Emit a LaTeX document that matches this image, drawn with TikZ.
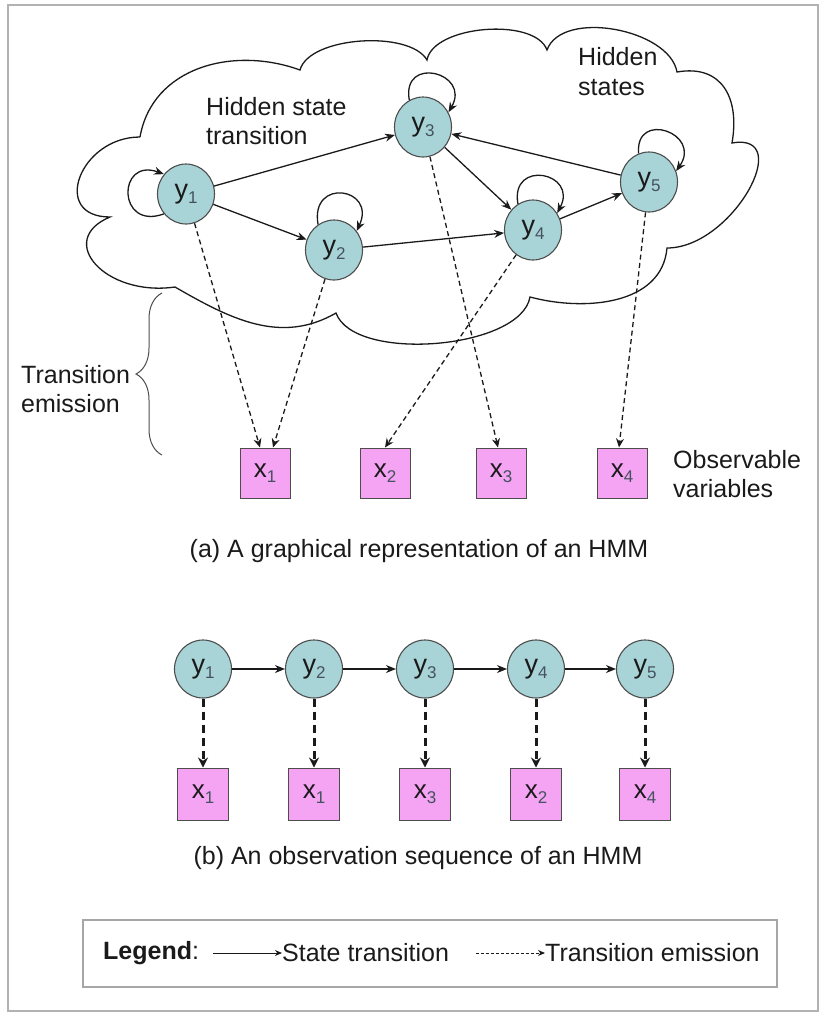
\documentclass[tikz,border=0pt]{standalone}
\usepackage{fontspec}
\setmainfont{Liberation Sans}
\usetikzlibrary{arrows.meta,shapes.geometric,decorations.pathreplacing,calc}
\definecolor{stfill}{HTML}{A9D4D7}
\definecolor{obfill}{HTML}{F5A3F3}
\definecolor{edgegray}{HTML}{4D4D4D}
\definecolor{subgray}{HTML}{44525E}
\definecolor{inkc}{HTML}{1A1A1A}
\newcommand\lbl[2]{#1\raisebox{-0.35ex}{\fontsize{17}{17}\selectfont\color{subgray}#2}}
\tikzset{
  state/.style={ellipse, draw=edgegray, line width=1.1pt, fill=stfill, minimum width=57pt, minimum height=60pt, inner sep=0pt, text=inkc, font=\fontsize{27}{27}\selectfont},
  obs/.style={rectangle, draw=edgegray, line width=1pt, fill=obfill, minimum width=50pt, minimum height=50pt, inner sep=0pt, text=inkc, font=\fontsize{26}{26}\selectfont},
  trans/.style={-{Stealth[length=10pt,width=8pt]}, line width=1.3pt, draw=inkc},
  emit/.style={-{Stealth[length=9pt,width=8pt]}, line width=1.3pt, draw=inkc, dash pattern=on 5pt off 3.5pt},
  emitb/.style={-{Stealth[length=10pt,width=10pt]}, line width=3pt, draw=inkc, dash pattern=on 8pt off 5pt},
  txt/.style={font=\fontsize{25}{29}\selectfont, inner sep=0pt, align=left, text=inkc},
  cloudline/.style={draw=inkc, line width=1.3pt},
}
\begin{document}
\begin{tikzpicture}[x=1pt,y=1pt]
\useasboundingbox (0,0) rectangle (822,-1013);
\draw[gray!60, line width=1.5pt] (8,-5) rectangle (818,-1011);

% cloud
\draw[cloudline]
  (140,-137) to[out=80,in=160,looseness=1.05] (300,-70)
  to[out=75,in=120,looseness=0.7] (427,-60)
  to[out=80,in=110,looseness=0.75] (547,-50)
  to[out=70,in=100,looseness=0.85] (677,-72)
  to[out=10,in=80,looseness=1.3] (732,-143)
  to[out=10,in=0,looseness=1.35] (667,-248)
  to[out=-95,in=-15,looseness=1] (530,-297)
  to[out=-100,in=-70,looseness=0.7] (336,-313)
  to[out=-150,in=-30,looseness=1] (175,-287)
  .. controls (105,-297) and (55,-240) .. (110,-217)
  to[out=180,in=180,looseness=1.8] (140,-137);

% texts part (a)
\node[txt, anchor=west] (t1) at (206,-121) {Hidden state\\transition};
\node[txt, anchor=west, font=\fontsize{25}{30}\selectfont] (t2) at (578,-72) {Hidden\\states};
\node[txt, anchor=west] (t3) at (21,-389) {Transition\\emission};
\node[txt, anchor=west] (t4) at (673,-474) {Observable\\variables};
\draw[edgegray, line width=1pt, decorate, decoration={brace, amplitude=26pt}] (162,-455) -- (162,-293);

% states part (a)
\node[state] (a1) at (186,-194) {\lbl{y}{1}};
\node[state] (a2) at (334,-250) {\lbl{y}{2}};
\node[state] (a3) at (423,-127) {\lbl{y}{3}};
\node[state] (a4) at (533,-230) {\lbl{y}{4}};
\node[state] (a5) at (649,-182) {\lbl{y}{5}};

\node[obs] (o1) at (265,-473) {\lbl{x}{1}};
\node[obs] (o2) at (385,-473) {\lbl{x}{2}};
\node[obs] (o3) at (501,-473) {\lbl{x}{3}};
\node[obs] (o4) at (622,-473) {\lbl{x}{4}};

% self loops
\draw[trans] (a1.222) .. controls +(200:50) and +(160:50) .. (a1.138);
\draw[trans] (a2.122) .. controls +(100:48) and +(65:48) .. (a2.40);
\draw[trans] (a3.117) .. controls +(100:46) and +(60:46) .. (a3.30);
\draw[trans] (a4.120) .. controls +(100:46) and +(62:46) .. (a4.35);
\draw[trans] (a5.110) .. controls +(95:44) and +(55:46) .. (a5.22);

% transitions
\draw[trans] (a1) -- (a3);
\draw[trans] (a1) -- (a2);
\draw[trans] (a2) -- (a4);
\draw[trans] (a3) -- (a4);
\draw[trans] (a4) -- (a5);
\draw[trans] (a5) -- (a3);

% emissions
\draw[emit] (a1) -- ([xshift=-5pt]o1.north);
\draw[emit] (a2) -- ([xshift=8pt]o1.north);
\draw[emit] (a4) -- (o2.north);
\draw[emit] (a3) -- ([xshift=-3pt]o3.north);
\draw[emit] (a5) -- ([xshift=-3pt]o4.north);

\node[txt] (capa) at (419,-551) {(a) A graphical representation of an HMM};

% part (b)
\node[state, minimum height=58pt] (b1) at (203,-669) {\lbl{y}{1}};
\node[state, minimum height=58pt] (b2) at (314,-669) {\lbl{y}{2}};
\node[state, minimum height=58pt] (b3) at (425,-669) {\lbl{y}{3}};
\node[state, minimum height=58pt] (b4) at (536,-669) {\lbl{y}{4}};
\node[state, minimum height=58pt] (b5) at (645,-669) {\lbl{y}{5}};

\node[obs, minimum width=51pt, minimum height=52pt] (c1) at (203,-794) {\lbl{x}{1}};
\node[obs, minimum width=51pt, minimum height=52pt] (c2) at (314,-794) {\lbl{x}{1}};
\node[obs, minimum width=51pt, minimum height=52pt] (c3) at (425,-794) {\lbl{x}{3}};
\node[obs, minimum width=51pt, minimum height=52pt] (c4) at (536,-794) {\lbl{x}{2}};
\node[obs, minimum width=51pt, minimum height=52pt] (c5) at (645,-794) {\lbl{x}{4}};

\draw[trans] (b1) -- (b2);
\draw[trans] (b2) -- (b3);
\draw[trans] (b3) -- (b4);
\draw[trans] (b4) -- (b5);

\draw[emitb] (b1) -- (c1);
\draw[emitb] (b2) -- (c2);
\draw[emitb] (b3) -- (c3);
\draw[emitb] (b4) -- (c4);
\draw[emitb] (b5) -- (c5);

\node[txt] (capb) at (418,-858) {(b) An observation sequence of an HMM};

% legend
\draw[gray!70, line width=1.2pt] (83,-920) rectangle (777,-987);
\node[txt, anchor=west] (lg) at (103,-953) {\textbf{Legend}:};
\coordinate (la) at (213,-953);
\node[txt, anchor=west] (lst) at (282,-953) {State transition};
\draw[-{Stealth[length=7pt,width=6pt]}, line width=0.9pt, draw=inkc] (la) -- (lst.west);
\coordinate (lb) at (476,-953);
\node[txt, anchor=west] (lte) at (545,-953) {Transition emission};
\draw[-{Stealth[length=7pt,width=6pt]}, line width=0.9pt, draw=inkc, dash pattern=on 3pt off 2pt] (lb) -- (lte.west);
\end{tikzpicture}
\end{document}
